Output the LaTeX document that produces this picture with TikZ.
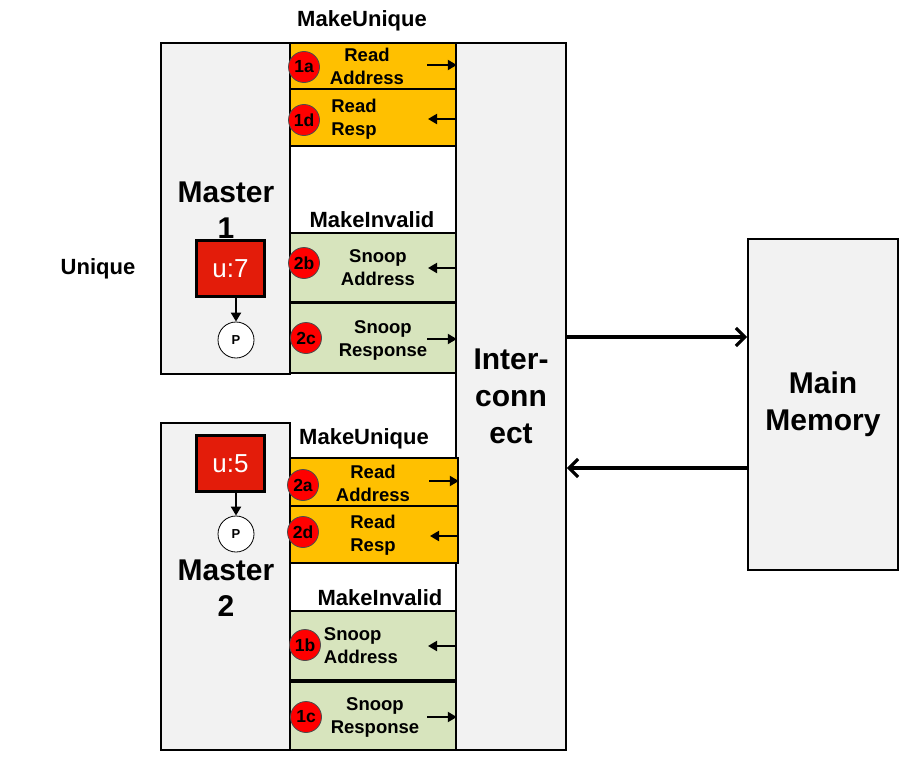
\documentclass[tikz,border=0pt]{standalone}
\usepackage{fontspec}
\setmainfont{Liberation Sans}
\usepackage{xcolor}
\usepackage{tikz}
\usetikzlibrary{arrows.meta, positioning, calc}

\definecolor{msgorange}{HTML}{FFC000}
\definecolor{msggreen}{HTML}{D7E4BD}
\definecolor{boxgray}{HTML}{F2F2F2}
\definecolor{statered}{HTML}{E31C0A}

\begin{document}
\begin{tikzpicture}[x=1pt, y=-1pt,
    block/.style={draw=black, fill=boxgray, line width=1.6pt, inner sep=0pt},
    msg box/.style={draw=black, line width=1.6pt, inner sep=0pt, minimum width=166pt},
    read msg/.style={msg box, fill=msgorange},
    snoop msg/.style={msg box, fill=msggreen},
    msg text/.style={font=\fontsize{18.5}{23}\selectfont\bfseries, align=center, inner sep=0pt},
    stage mark/.style={circle, draw=black!70, fill=red, line width=0.8pt, minimum size=31pt, inner sep=0pt, font=\fontsize{17.5}{17.5}\selectfont\bfseries},
    req label/.style={font=\fontsize{22}{22}\selectfont\bfseries, inner sep=0pt},
    big text/.style={font=\fontsize{30}{37}\selectfont\bfseries, align=center, inner sep=0pt},
    state box/.style={draw=black, fill=statered, line width=3.5pt, minimum width=68pt, minimum height=56pt, inner sep=0pt, text=white, font=\fontsize{26}{26}\selectfont},
    port node/.style={circle, draw=black, fill=white, line width=0.8pt, minimum size=36pt, inner sep=0pt, font=\fontsize{13}{13}\selectfont\bfseries},
    small arrow/.style={line width=2pt, -{Triangle[length=9pt,width=10pt]}},
    big arrow/.style={line width=3.2pt, -{Straight Barb[length=9pt,width=18pt]}}
]
    \useasboundingbox[fill=white] (0,0) rectangle (900,760);

    % Bloques grandes
    \node[block, minimum width=129pt, minimum height=331pt] (master1) at (225.5, 208.5) {};
    \node[block, minimum width=129pt, minimum height=327pt] (master2) at (225.5, 586.5) {};
    \node[block, minimum width=110pt, minimum height=707pt, big text] (inter) at (511, 396.5) {Inter-\\conn\\ect};
    \node[block, minimum width=150pt, minimum height=331pt, big text] (mem) at (823, 404.5) {Main\\Memory};

    % Master 1
    \node[big text, font=\fontsize{30}{36}\selectfont\bfseries] (m1text) at (226, 210) {Master\\1};
    \node[state box] (u7) at (230.5, 268.5) {u:7};
    \node[port node] (p1) at (236, 340) {P};
    \draw[small arrow] (p1.north |- u7.south) -- (p1.north);
    \node[req label] (unique) at (98, 269) {Unique};

    % Master 2
    \node[big text, font=\fontsize{30}{36}\selectfont\bfseries] (m2text) at (226, 588) {Master\\2};
    \node[state box] (u5) at (230.5, 463.5) {u:5};
    \node[port node] (p2) at (236, 534) {P};
    \draw[small arrow] (p2.north |- u5.south) -- (p2.north);

    % Mensajes de Master 1
    \node[req label] (mu1) at (362, 21) {MakeUnique};
    \node[read msg, minimum height=46pt] (b1a) at (373, 66) {};
    \node[read msg, minimum height=57pt] (b1d) at (373, 117.5) {};
    \node[req label] (mi1) at (372, 220) {MakeInvalid};
    \node[snoop msg, minimum height=69pt] (b2b) at (373, 267.5) {};
    \node[snoop msg, minimum height=70pt] (b2c) at (373, 338) {};

    \node[msg text] (t1a) at (367, 66) {Read\\Address};
    \node[msg text, align=left] (t1d) at (354, 119) {Read\\Resp};
    \node[msg text] (t2b) at (378, 268) {Snoop\\Address};
    \node[msg text] (t2c) at (383, 340) {Snoop\\Response};

    % Mensajes de Master 2
    \node[req label] (mu2) at (364, 439) {MakeUnique};
    \node[read msg, minimum width=168pt, minimum height=48pt] (b2a) at (374, 482) {};
    \node[read msg, minimum width=168pt, minimum height=57pt] (b2d) at (374, 534.5) {};
    \node[req label] (mi2) at (380, 598) {MakeInvalid};
    \node[snoop msg, minimum height=69pt] (b1b) at (373, 645.5) {};
    \node[snoop msg, minimum height=68pt] (b1c) at (373, 716) {};

    \node[msg text] (t2a) at (373, 483) {Read\\Address};
    \node[msg text, align=left] (t2d) at (373, 535) {Read\\Resp};
    \node[msg text, align=left] (t1b) at (361, 646) {Snoop\\Address};
    \node[msg text] (t1c) at (375, 717) {Snoop\\Response};

    % Pasos
    \node[stage mark] (s1a) at (304, 67) {1a};
    \node[stage mark] (s1d) at (304, 120) {1d};
    \node[stage mark] (s2b) at (304, 263) {2b};
    \node[stage mark] (s2c) at (306, 338) {2c};
    \node[stage mark] (s2a) at (303, 485) {2a};
    \node[stage mark] (s2d) at (303, 532) {2d};
    \node[stage mark] (s1b) at (305, 645) {1b};
    \node[stage mark] (s1c) at (306, 717) {1c};

    % Flechas pequenas
    \coordinate (a1a) at (427, 65);
    \coordinate (a1d) at (428, 119);
    \coordinate (a2b) at (428, 268);
    \coordinate (a2c) at (427, 339);
    \coordinate (a2a) at (429, 481);
    \coordinate (a2d) at (430, 536);
    \coordinate (a1b) at (428, 646);
    \coordinate (a1c) at (427, 717);
    \draw[small arrow] (a1a) -- (a1a -| b1a.east);
    \draw[small arrow] (a1d -| b1d.east) -- (a1d);
    \draw[small arrow] (a2b -| b2b.east) -- (a2b);
    \draw[small arrow] (a2c) -- (a2c -| b2c.east);
    \draw[small arrow] (a2a) -- (a2a -| b2a.east);
    \draw[small arrow] (a2d -| b2d.east) -- (a2d);
    \draw[small arrow] (a1b -| b1b.east) -- (a1b);
    \draw[small arrow] (a1c) -- (a1c -| b1c.east);

    % Memoria
    \coordinate (req) at (0, 337);
    \coordinate (resp) at (0, 468);
    \draw[big arrow] (inter.east |- req) -- (mem.west |- req);
    \draw[big arrow] (mem.west |- resp) -- (inter.east |- resp);
\end{tikzpicture}
\end{document}
